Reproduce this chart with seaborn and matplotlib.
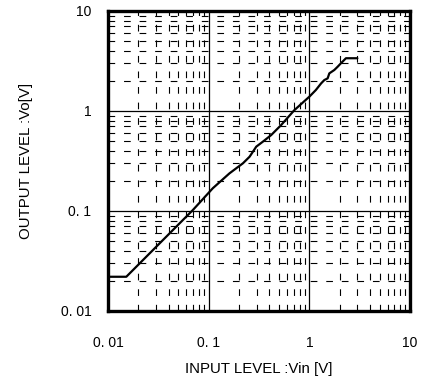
import matplotlib
matplotlib.use("Agg")
import matplotlib.pyplot as plt
import seaborn as sns
import pandas as pd
from matplotlib.ticker import FixedLocator, LogLocator, NullFormatter

vin = [0.01, 0.0152, 0.0695, 0.110, 0.161, 0.219, 0.255, 0.297, 0.345, 0.418,
       0.525, 0.710, 1.00, 1.16, 1.31, 1.41, 1.52, 1.58, 1.77, 1.91, 2.06, 2.31, 3.0]
vout = [0.022, 0.022, 0.102, 0.169, 0.238, 0.300, 0.349, 0.440, 0.493, 0.575,
        0.724, 1.02, 1.39, 1.62, 1.89, 2.04, 2.12, 2.38, 2.57, 2.77, 3.0, 3.37, 3.37]
tick_vals = [0.01, 0.1, 1, 10]
tick_labels = ["0. 01", "0. 1", "1", "10"]

sns.set_style("white")
plt.rcParams['font.family'] = ['Liberation Sans', 'DejaVu Sans']
plt.rcParams['text.color'] = 'black'
plt.rcParams['axes.labelcolor'] = 'black'

df = pd.DataFrame({"vin": vin, "vout": vout})

fig = plt.figure(figsize=(4.34, 3.81), dpi=100)
ax = fig.add_axes([108/434, 1-311/381, 302/434, 300/381])

sns.lineplot(data=df, x="vin", y="vout", sort=False, color="black", linewidth=1.6, ax=ax)

ax.set_xscale("log")
ax.set_yscale("log")
ax.set_xlim(0.01, 10)
ax.set_ylim(0.01, 10)

ax.xaxis.set_major_locator(FixedLocator(tick_vals))
ax.yaxis.set_major_locator(FixedLocator(tick_vals))
ax.set_xticklabels(tick_labels)
ax.set_yticklabels(tick_labels)
ax.xaxis.set_minor_locator(LogLocator(base=10, subs=range(2, 10)))
ax.yaxis.set_minor_locator(LogLocator(base=10, subs=range(2, 10)))
ax.xaxis.set_minor_formatter(NullFormatter())
ax.yaxis.set_minor_formatter(NullFormatter())

ax.grid(which="major", color="black", linewidth=0.9, linestyle="-")
ax.grid(which="minor", color="black", linewidth=0.8, linestyle=(0, (6, 8)))
ax.set_axisbelow(True)

ax.tick_params(which="both", length=0, labelsize=10, colors="black")
ax.tick_params(axis="x", pad=18)
ax.tick_params(axis="y", pad=12)

for s in ax.spines.values():
    s.set_visible(True)
    s.set_color("black")
    s.set_linewidth(2.4)

ax.set_xlabel("INPUT LEVEL :Vin [V]", fontsize=10.8, labelpad=9, color="black")
ax.set_ylabel("OUTPUT LEVEL :Vo[V]", fontsize=10.8, labelpad=20, color="black")

fig.savefig("out.png", dpi=100)
